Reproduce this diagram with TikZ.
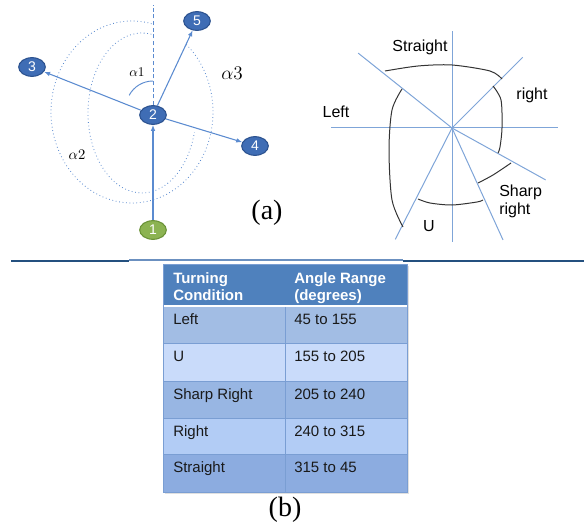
\documentclass[tikz,border=0pt]{standalone}
\usepackage{fontspec}
\setmainfont{Liberation Serif}
\newfontfamily\arial{Liberation Sans}
\usepackage{xcolor}
\usetikzlibrary{arrows.meta,shapes.geometric}

\definecolor{nodeblue}{HTML}{3F6DB5}
\definecolor{nodeedge}{HTML}{2C528F}
\definecolor{nodegreen}{HTML}{8CB352}
\definecolor{greenedge}{HTML}{6A9237}
\definecolor{arrowblue}{HTML}{5B8BD0}
\definecolor{rayblue}{HTML}{7FA5D8}
\definecolor{headblue}{HTML}{4F81BD}
\definecolor{rowa}{HTML}{A2BDE4}
\definecolor{rowb}{HTML}{C9DBFA}
\definecolor{rowc}{HTML}{98B6E3}
\definecolor{rowd}{HTML}{B2CCF5}
\definecolor{rowe}{HTML}{8CACE0}
\definecolor{gridblue}{HTML}{7A9ED3}
\definecolor{sepdark}{HTML}{24507F}
\definecolor{seplight}{HTML}{6B90C0}

\begin{document}
\begin{tikzpicture}[
    x=0.75pt, y=0.75pt,
    waypt/.style={ellipse, draw=nodeedge, fill=nodeblue, text=white,
                  line width=0.8pt, minimum width=20pt, minimum height=14pt,
                  inner sep=0pt, font=\arial\fontsize{10.5}{10.5}\selectfont},
    start/.style={waypt, draw=greenedge, fill=nodegreen},
    move/.style={draw=arrowblue, line width=0.8pt,
                 -{Latex[length=4.5pt,width=3.5pt]}},
    sweep/.style={draw=arrowblue, line width=0.6pt, dotted},
    ray/.style={draw=rayblue, line width=0.75pt},
    bound/.style={draw=black!80, line width=0.75pt},
    lab/.style={font=\arial\fontsize{12}{13.5}\selectfont, inner sep=0pt},
    cell/.style={font=\arial\fontsize{11.25}{12.75}\selectfont,
                 anchor=base west, inner sep=0pt, text=black!90},
    head/.style={cell, text=white,
                 font=\arial\bfseries\fontsize{11.25}{12.75}\selectfont},
    caption/.style={font=\fontsize{21}{23}\selectfont, inner sep=0pt},
]
\useasboundingbox (0,0) rectangle (584,-527);

% (a) turning example
\node[waypt] (n2) at (153,-115) {2};
\node[waypt] (n3) at (32,-67) {3};
\node[waypt] (n4) at (255,-146) {4};
\node[waypt] (n5) at (197,-21) {5};
\node[start] (n1) at (153,-230) {1};
\coordinate (heading) at (153,-5);

\draw[sweep] (132,-112) ++(76:81 and 91)
  arc[start angle=76, end angle=409, x radius=81, y radius=91];
\draw[sweep] (142,-113) ++(80:54 and 80)
  arc[start angle=80, end angle=346, x radius=54, y radius=80];

\draw[arrowblue, line width=0.7pt, dash pattern=on 3pt off 2pt] (n2) -- (heading);
\draw[move] (n1) -- (n2);
\draw[move] (n2) -- (n3);
\draw[move] (n2) -- (n4);
\draw[move] (n2) -- (n5);
\draw[arrowblue, line width=0.7pt] (153,-81) arc[start angle=90, end angle=152, radius=27];

\node[font=\fontsize{10}{11}\selectfont] (a1) at (137,-72) {$\alpha1$};
\node[font=\fontsize{11}{12}\selectfont] (a2) at (77,-155) {$\alpha2$};
\node[font=\fontsize{14}{15}\selectfont] (a3) at (232,-73) {$\alpha3$};
\node[caption] (capa) at (267,-213) {(a)};

% angle sectors
\coordinate (hub) at (452,-128);
\foreach \ang/\len [count=\i] in {90/97, 270/114, 180/121, 0/106, 141.4/120,
                                  45/100, 243/125, 331/107, 294.5/123}
  \draw[ray] (hub) -- ++(\ang:\len) coordinate (ray\i);

\draw[bound] plot[smooth] coordinates {(385,-71) (418,-66) (452,-65) (490,-71) (502,-79)};
\draw[bound] plot[smooth] coordinates {(493,-86) (501,-100) (502,-128) (500,-147) (498,-153)};
\draw[bound] plot[smooth] coordinates {(511,-163) (493,-175) (478,-183)};
\draw[bound] plot[smooth] coordinates {(418,-199) (430,-203) (452,-205) (477,-202) (483,-200)};
\draw[bound] plot[smooth] coordinates {(402,-89) (392,-110) (389,-150) (392,-200) (403,-227)};

\node[lab] (straight) at (420,-47) {Straight};
\node[lab] (right) at (532,-95) {right};
\node[lab] (left) at (336,-112) {Left};
\node[lab, anchor=west, align=left] (sharp) at (499,-201) {Sharp\\right};
\node[lab] (uturn) at (429,-226) {U};

% separator
\draw[sepdark, line width=1.5pt] (11,-261) -- (129,-261);
\draw[seplight, line width=0.8pt] (129,-260) -- (403,-260);
\draw[sepdark, line width=1.5pt] (403,-261) -- (584,-261);

% (b) table
\fill[black!12] (165,-266) rectangle (409,-494);
\fill[headblue] (163,-264) rectangle (407,-306);
\foreach \top/\bot/\col in {306/343/rowa, 343/381/rowb, 381/418/rowc,
                            418/454/rowd, 454/492/rowe}
  \fill[\col] (163,-\top) rectangle (407,-\bot);
\foreach \y in {343,381,418,454}
  \draw[gridblue, line width=0.7pt] (163,-\y) -- (407,-\y);
\draw[gridblue, line width=0.7pt] (285,-306) -- (285,-492);
\draw[white, line width=1.5pt] (163,-306) -- (407,-306);
\draw[gridblue, line width=0.5pt] (163,-264) rectangle (407,-492);

\node[head] (h1a) at (173,-283) {Turning};
\node[head] (h1b) at (173,-300) {Condition};
\node[head] (h2a) at (294,-283) {Angle Range};
\node[head] (h2b) at (294,-300) {(degrees)};
\foreach \cond/\rng/\b [count=\i] in {Left/45 to 155/324, U/155 to 205/361,
    Sharp Right/205 to 240/399, Right/240 to 315/436, Straight/315 to 45/472}{
  \node[cell] (cond\i) at (173,-\b) {\cond};
  \node[cell] (range\i) at (294,-\b) {\rng};
}
\node[caption] (capb) at (285,-510) {(b)};

\end{tikzpicture}
\end{document}
